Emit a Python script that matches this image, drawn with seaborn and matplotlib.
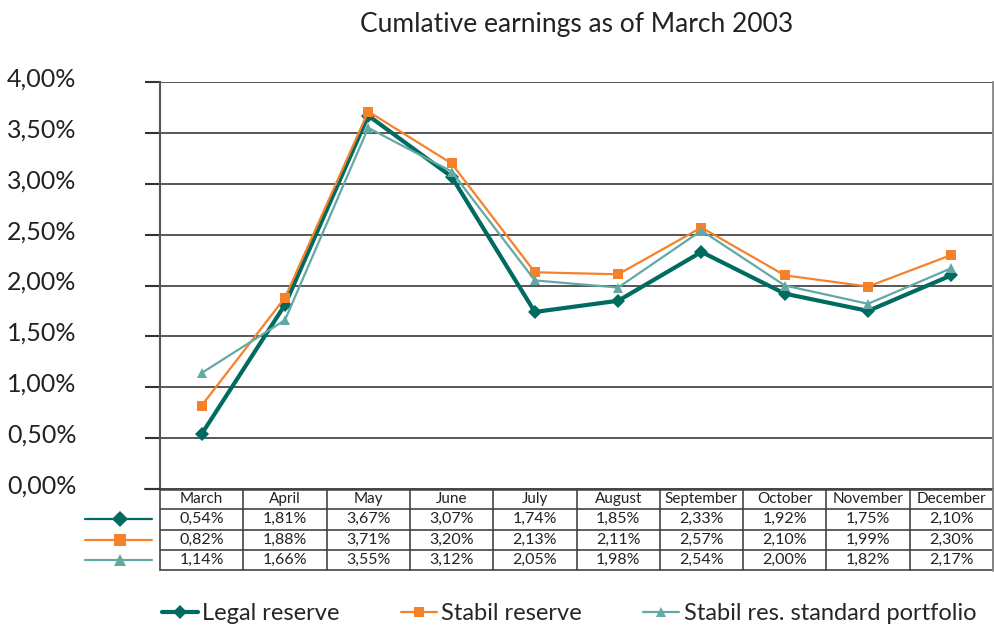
import numpy as np
import pandas as pd
import seaborn as sns
import matplotlib.pyplot as plt
import matplotlib.transforms as mtransforms
from matplotlib.lines import Line2D

# ---------------------------------------------------------------------------
# Data
# ---------------------------------------------------------------------------
months = ['March', 'April', 'May', 'June', 'July', 'August', 'September',
          'October', 'November', 'December']
legal_reserve = [0.54, 1.81, 3.67, 3.07, 1.74, 1.85, 2.33, 1.92, 1.75, 2.10]
stabil_reserve = [0.82, 1.88, 3.71, 3.20, 2.13, 2.11, 2.57, 2.10, 1.99, 2.30]
stabil_standard = [1.14, 1.66, 3.55, 3.12, 2.05, 1.98, 2.54, 2.00, 1.82, 2.17]
series_names = ['Legal reserve', 'Stabil reserve', 'Stabil res. standard portfolio']
y_ticks = [0.0, 0.5, 1.0, 1.5, 2.0, 2.5, 3.0, 3.5, 4.0]

colors = ['#006b60', '#f5822a', '#62a9a6']
markers = ['D', 's', '^']
widths = [3.0, 1.6, 1.6]
msizes = [7, 7, 7]

df = pd.DataFrame({'Month': months * 3,
                   'Value': legal_reserve + stabil_reserve + stabil_standard,
                   'Series': np.repeat(series_names, len(months))})
df['pos'] = np.tile(np.arange(len(months)) + 0.5, 3)

sns.set_theme(style='white')
plt.rcParams['font.family'] = ['Lato', 'DejaVu Sans']

fig = plt.figure(figsize=(9.95, 6.28), dpi=100)
W, H = 995, 628
L, R = 160, 993
ax = fig.add_axes([L / W, 1 - 489 / H, (R - L) / W, (489 - 82) / H])
tab = fig.add_axes([L / W, 1 - 570 / H, (R - L) / W, (570 - 489) / H])

# ---------------------------------------------------------------------------
# Lines
# ---------------------------------------------------------------------------
for name, c, m, lw, ms in zip(series_names, colors, markers, widths, msizes):
    sub = df[df['Series'] == name]
    sns.lineplot(data=sub, x='pos', y='Value', ax=ax, color=c, marker=m,
                 markersize=ms, markeredgewidth=0, linewidth=lw, zorder=3)

ax.set_xlim(0, len(months))
ax.set_ylim(0, 4)
ax.set_yticks(y_ticks)
ax.set_yticklabels([f"{v:.2f}%".replace('.', ',') for v in y_ticks], fontsize=18)
ax.set_xticks([])
ax.set_xlabel('')
ax.set_ylabel('')
ax.grid(axis='y', color='#3a3a3a', linewidth=1.2)
ax.set_axisbelow(True)
ax.tick_params(axis='y', length=11, width=1.5, color='#333333', pad=99, left=True)
for s in ['top', 'bottom']:
    ax.spines[s].set_visible(False)
ax.spines['left'].set_color('#555555')
ax.spines['left'].set_linewidth(1.5)
ax.spines['right'].set_color('#888888')
ax.spines['right'].set_linewidth(2)
# labels sit a little above their gridlines in the original
lift = mtransforms.ScaledTranslation(0, 5 / 100, fig.dpi_scale_trans)
for lbl in ax.get_yticklabels():
    lbl.set_horizontalalignment('left')
    lbl.set_color('#222222')
    lbl.set_transform(lbl.get_transform() + lift)

ax.set_title('Cumlative earnings as of March 2003', fontsize=19, pad=36,
             color='#222222')

# ---------------------------------------------------------------------------
# Data table
# ---------------------------------------------------------------------------
n = len(months)
tab.set_xlim(0, n)
tab.set_ylim(4, 0)
tab.axis('off')
for i in range(n + 1):
    tab.plot([i, i], [0, 4], color='#444444', lw=1.2, clip_on=False)
for j in range(5):
    tab.plot([0, n], [j, j], color='#444444', lw=1.2 if j else 1.8, clip_on=False)
tab.plot([n, n], [0, 4], color='#888888', lw=2, clip_on=False)
tab.plot([-0.18, 0], [0, 0], color='#333333', lw=1.5, clip_on=False)

for i, mth in enumerate(months):
    tab.text(i + 0.5, 0.5, mth, ha='center', va='center', fontsize=11,
             color='#222222')
rows = [legal_reserve, stabil_reserve, stabil_standard]
for r, vals in enumerate(rows):
    for i, v in enumerate(vals):
        tab.text(i + 0.5, r + 1.5, f"{v:.2f}%".replace('.', ','), ha='center',
                 va='center', fontsize=11.5, color='#222222')
    tab.plot([-0.9, -0.1], [r + 1.5, r + 1.5], color=colors[r], lw=1.6,
             clip_on=False)
    tab.plot([-0.48], [r + 1.5], color=colors[r], marker=markers[r],
             markersize=8, markeredgewidth=0, clip_on=False)

# ---------------------------------------------------------------------------
# Legend
# ---------------------------------------------------------------------------
handles = [Line2D([0], [0], color=c, marker=m, lw=lw, markersize=7,
                  markeredgewidth=0)
           for c, m, lw in zip(colors, markers, widths)]
fig.legend(handles, series_names, loc='center', bbox_to_anchor=(0.572, 1 - 614 / H),
           ncol=3, frameon=False, fontsize=17, handlelength=1.5,
           handletextpad=0.2, columnspacing=2.6)

plt.savefig('out.png', dpi=100)
